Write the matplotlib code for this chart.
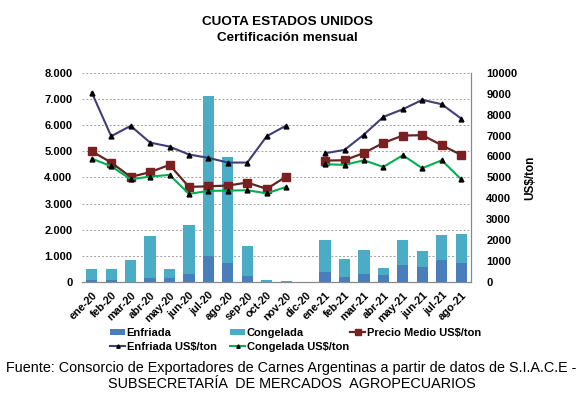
import numpy as np
import matplotlib
matplotlib.use("Agg")
import matplotlib.pyplot as plt
from matplotlib.ticker import FuncFormatter

plt.rcParams['font.family'] = ['Liberation Sans', 'DejaVu Sans']

meses = ["ene-20", "feb-20", "mar-20", "abr-20", "may-20", "jun-20", "jul-20",
         "ago-20", "sep-20", "oct-20", "nov-20", "dic-20", "ene-21", "feb-21",
         "mar-21", "abr-21", "may-21", "jun-21", "jul-21", "ago-21"]

# toneladas
total = [490, 510, 830, 1775, 500, 2180, 7130, 4770, 1380, 90, 25, 0,
         1620, 870, 1210, 550, 1595, 1175, 1810, 1835]
enfriada = [60, 60, 10, 165, 165, 320, 980, 730, 215, 0, 0, 0,
            385, 190, 305, 255, 650, 575, 830, 715]

# US$/ton
nan = np.nan
precio_medio = [6250, 5710, 5025, 5250, 5600, 4545, 4575, 4610, 4755, 4450, 5040, nan,
                5805, 5820, 6170, 6650, 7000, 7020, 6540, 6075]
enfriada_usd = [9060, 6970, 7465, 6665, 6475, 6095, 5935, 5710, 5710, 6970, 7480, nan,
                6155, 6315, 7050, 7895, 8260, 8710, 8500, 7815]
congelada_usd = [5900, 5535, 4910, 5040, 5120, 4210, 4355, 4370, 4385, 4240, 4545, nan,
                 5630, 5600, 5820, 5500, 6060, 5440, 5820, 4910]

congelada = [t - e for t, e in zip(total, enfriada)]
x = np.arange(len(meses))

fig = plt.figure(figsize=(5.83, 3.96), dpi=100)
ax = fig.add_axes([0.1407, 0.288, 0.667, 0.528])
ax2 = ax.twinx()

b1 = ax.bar(x, enfriada, width=0.58, color="#4A7EBB", zorder=2)
b2 = ax.bar(x, congelada, width=0.58, bottom=enfriada, color="#4BACC6", zorder=2)

l1, = ax2.plot(x, precio_medio, color="#632523", lw=1.6, marker="s", ms=6,
               mfc="#7B2020", mec="#7B2020")
l2, = ax2.plot(x, enfriada_usd, color="#403E78", lw=1.5, marker="^", ms=3.5,
               mfc="black", mec="black")
l3, = ax2.plot(x, congelada_usd, color="#00B050", lw=1.5, marker="^", ms=3.5,
               mfc="black", mec="black")

ax.set_xlim(-0.5, len(meses) - 0.5)
ax.set_ylim(0, 8000)
ax.set_yticks(range(0, 8001, 1000))
ax.yaxis.set_major_formatter(FuncFormatter(lambda v, p: f"{int(v):,}".replace(",", ".")))
ax2.set_ylim(0, 10000)
ax2.set_yticks(range(0, 10001, 1000))

ax.grid(axis="y", color="#A0A0A0", ls=(0, (2, 2)), lw=0.7, zorder=0)
ax.set_axisbelow(True)

for a in (ax, ax2):
    a.spines["top"].set_visible(False)
    a.spines["left"].set_visible(False)
    a.spines["bottom"].set_color("#888888")
    a.spines["right"].set_color("#888888")
    a.tick_params(labelsize=8, length=0)
    for t in a.get_yticklabels():
        t.set_fontweight("bold")
ax.tick_params(axis="y", pad=7)
ax2.tick_params(axis="y", pad=11)

ax.set_xticks(x)
ax.set_xticklabels(meses, rotation=45, ha="right", rotation_mode="anchor",
                   fontsize=7.8, fontweight="bold")
ax.tick_params(axis="x", pad=6)
ax2.set_ylabel("US$/ton", fontsize=8.5, fontweight="bold", labelpad=5)

fig.text(0.493, 0.944, "CUOTA ESTADOS UNIDOS", ha="center", va="center",
         fontsize=9.7, fontweight="bold")
fig.text(0.493, 0.904, "Certificación mensual", ha="center", va="center",
         fontsize=9.7, fontweight="bold")

# leyenda en tres columnas fijas
columnas = [([b1, l2], ["Enfriada", "Enfriada US$/ton"], 110),
            ([b2, l3], ["Congelada", "Congelada US$/ton"], 230),
            ([l1], ["Precio Medio US$/ton"], 350)]
for handles, labels, px in columnas:
    fig.legend(handles, labels, loc="upper left", bbox_to_anchor=(px / 583, 0.172),
               frameon=False, prop={"size": 8, "weight": "bold"},
               handlelength=1.35, handleheight=0.45, handletextpad=0.15,
               labelspacing=0.35, markerscale=0.7, borderpad=0, borderaxespad=0)

fig.text(0.5, 0.071, "Fuente: Consorcio de Exportadores de Carnes Argentinas a partir de datos de S.I.A.C.E -",
         ha="center", va="center", fontsize=10.4)
fig.text(0.5, 0.030, "SUBSECRETARÍA  DE MERCADOS  AGROPECUARIOS",
         ha="center", va="center", fontsize=10.4)

fig.savefig("out.png", dpi=100)
